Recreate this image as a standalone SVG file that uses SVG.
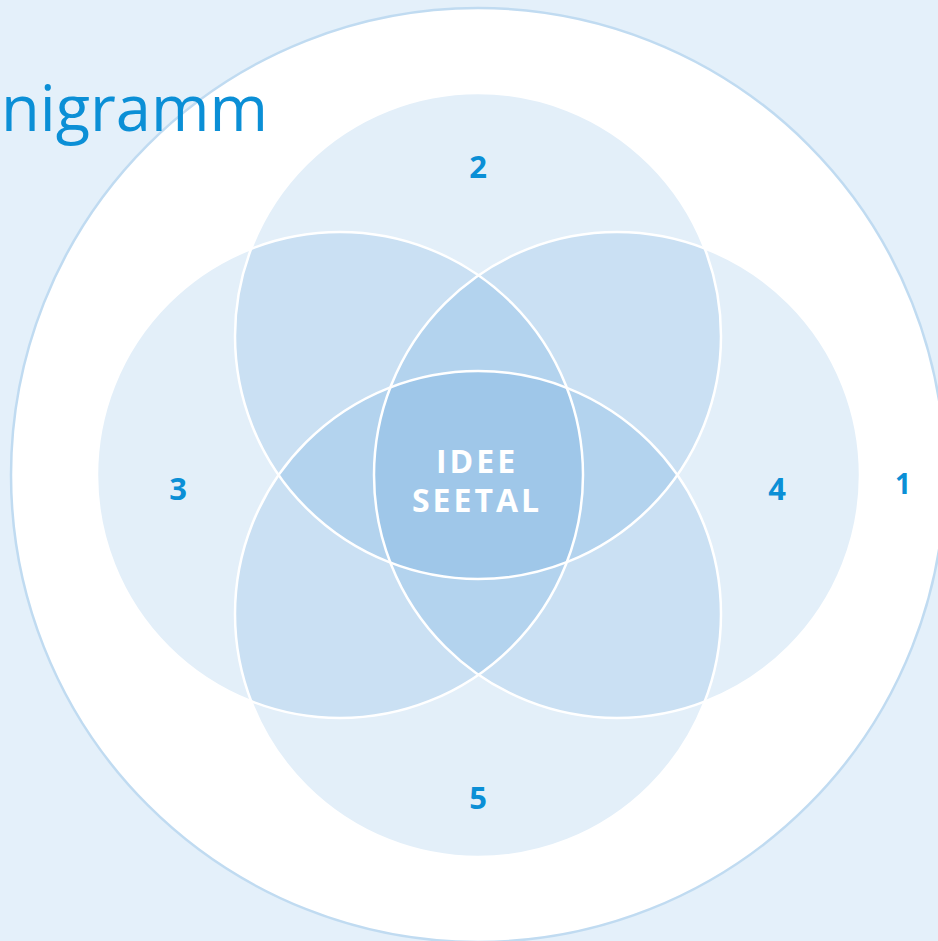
<svg xmlns="http://www.w3.org/2000/svg" width="938" height="941" viewBox="0 0 938 941">
<style>
.f{fill:rgb(0,110,200);fill-opacity:0.11;stroke:none}
.s{fill:none;stroke:#ffffff;stroke-width:2.5}
.n{font-family:"Open Sans","Noto Sans",sans-serif;font-weight:700;fill:#0b8fd6;text-anchor:middle}
.c{font-family:"Open Sans","Noto Sans",sans-serif;font-weight:700;fill:#ffffff;text-anchor:middle;font-size:32px;letter-spacing:3px}
</style>
<rect x="0" y="0" width="938" height="941" fill="#e4f0fa"/>
<g id="ring1">
<circle cx="478" cy="475" r="467" fill="#ffffff" stroke="#c0dbf1" stroke-width="2.5"/>
</g>
<g id="fills">
<circle id="c2" class="f" cx="478" cy="336" r="243"/>
<circle id="c3" class="f" cx="340" cy="475" r="243"/>
<circle id="c4" class="f" cx="617" cy="475" r="243"/>
<circle id="c5" class="f" cx="478" cy="614" r="243"/>
</g>
<g id="connectors">
<circle class="s" cx="478" cy="336" r="243"/>
<circle class="s" cx="340" cy="475" r="243"/>
<circle class="s" cx="617" cy="475" r="243"/>
<circle class="s" cx="478" cy="614" r="243"/>
</g>
<g id="labels">
<text class="n" x="478" y="178" font-size="31">2</text>
<text class="n" x="178" y="500" font-size="31">3</text>
<text class="n" x="777" y="500" font-size="31">4</text>
<text class="n" x="903" y="494" font-size="28">1</text>
<text class="n" x="478" y="809" font-size="31">5</text>
</g>
<g id="center">
<text class="c" x="477" y="473">IDEE</text>
<text class="c" x="477" y="512">SEETAL</text>
</g>
<text x="1" y="131" font-family="'Open Sans','Noto Sans',sans-serif" font-weight="500" font-size="64" fill="#0b8fd6" textLength="267" lengthAdjust="spacingAndGlyphs">nigramm</text>
</svg>
